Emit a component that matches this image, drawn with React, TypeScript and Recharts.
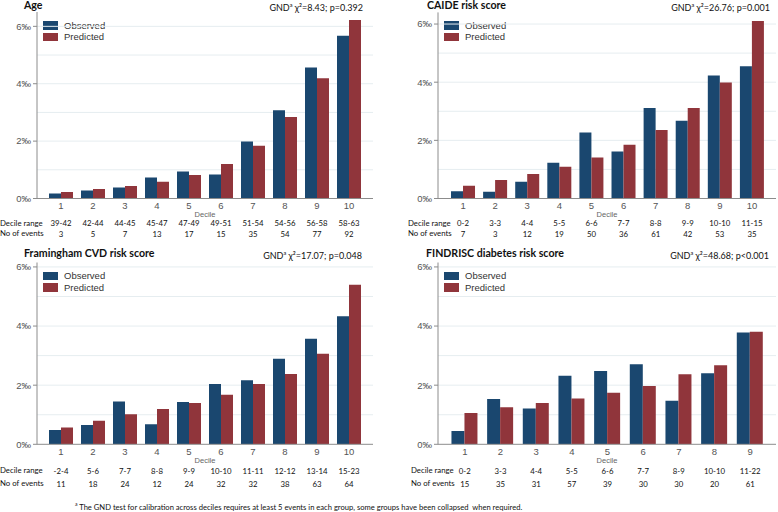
import React from 'react';
import { BarChart, Bar, XAxis, YAxis, CartesianGrid } from 'recharts';

const OBS_COLOR = '#1a476f';
const PRED_COLOR = '#90353b';
const AXIS_COLOR = '#8c8c8c';
const GRID_COLOR = '#e6edf0';
const CALIBRI = 'Lato, "Liberation Sans", sans-serif';

const deciles10 = ['1', '2', '3', '4', '5', '6', '7', '8', '9', '10'];
const deciles9 = deciles10.slice(0, 9);

const ageObserved = [0.17, 0.28, 0.38, 0.73, 0.94, 0.84, 1.99, 3.08, 4.57, 5.67];
const agePredicted = [0.23, 0.33, 0.44, 0.58, 0.82, 1.2, 1.84, 2.84, 4.19, 6.22];
const ageRange = ['39-42', '42-44', '44-45', '45-47', '47-49', '49-51', '51-54', '54-56', '56-58', '58-63'];
const ageEvents = ['3', '5', '7', '13', '17', '15', '35', '54', '77', '92'];

const caideObserved = [0.25, 0.23, 0.58, 1.23, 2.27, 1.62, 3.11, 2.67, 4.23, 4.55];
const caidePredicted = [0.44, 0.64, 0.84, 1.09, 1.41, 1.85, 2.36, 3.11, 3.99, 6.1];
const caideRange = ['0-2', '3-3', '4-4', '5-5', '6-6', '7-7', '8-8', '9-9', '10-10', '11-15'];
const caideEvents = ['7', '3', '12', '19', '50', '36', '61', '42', '53', '35'];

const framObserved = [0.48, 0.65, 1.45, 0.68, 1.43, 2.04, 2.17, 2.89, 3.57, 4.33];
const framPredicted = [0.57, 0.8, 1.02, 1.19, 1.4, 1.68, 2.04, 2.38, 3.06, 5.4];
const framRange = ['-2-4', '5-6', '7-7', '8-8', '9-9', '10-10', '11-11', '12-12', '13-14', '15-23'];
const framEvents = ['11', '18', '24', '12', '24', '32', '32', '38', '63', '64'];

const findObserved = [0.45, 1.53, 1.21, 2.32, 2.48, 2.71, 1.47, 2.4, 3.78];
const findPredicted = [1.06, 1.25, 1.4, 1.55, 1.74, 1.97, 2.37, 2.67, 3.81];
const findRange = ['0-2', '3-3', '4-4', '5-5', '6-6', '7-7', '8-9', '10-10', '11-22'];
const findEvents = ['15', '35', '31', '57', '39', '30', '30', '20', '61'];

const buildRows = (dec: string[], obs: number[], pred: number[], range: string[], events: string[]) =>
  dec.map((d, i) => ({ decile: d, observed: obs[i], predicted: pred[i], range: range[i], events: events[i] }));

interface Pad { left: number; right: number }

interface PanelProps {
  title: string;
  chi: string;
  p: string;
  left: number;
  top: number;
  width: number;
  height: number;
  marginTop: number;
  marginRight: number;
  yMax: number;
  data: ReturnType<typeof buildRows>;
  axisPad: Pad;
  mainH: number;
  rangeH: number;
  labelOffset: number;
  titleX: number;
  titleY: number;
  statRight: number;
  headerX: number;
  rangeY: number;
  eventsY: number;
}

const TABLE_FONT = 7.8;

function Panel(props: PanelProps) {
  const { left, top, width, height, data, yMax } = props;
  const plotLeft = left + 37;
  const tableTick = { fontSize: TABLE_FONT, fill: '#111', fontFamily: CALIBRI };
  return (
    <>
      <div style={{ position: 'absolute', left: props.titleX, top: props.titleY - 7, fontFamily: CALIBRI, fontWeight: 700, fontSize: 10.6, lineHeight: '14px', color: '#111' }}>
        {props.title}
      </div>
      <div style={{ position: 'absolute', right: 778 - props.statRight, top: props.titleY - 6, fontFamily: CALIBRI, fontSize: 9, lineHeight: '12px', color: '#111', whiteSpace: 'nowrap' }}>
        GND<sup style={{ fontSize: 5.5 }}>a</sup> χ²={props.chi}; p{props.p}
      </div>
      <div style={{ position: 'absolute', left: props.headerX, top: props.rangeY - 6, fontFamily: CALIBRI, fontSize: TABLE_FONT, lineHeight: '12px', color: '#111', whiteSpace: 'nowrap' }}>
        Decile range
      </div>
      <div style={{ position: 'absolute', left: props.headerX, top: props.eventsY - 6, fontFamily: CALIBRI, fontSize: TABLE_FONT, lineHeight: '12px', color: '#111', whiteSpace: 'nowrap' }}>
        No of events
      </div>
      <div style={{ position: 'absolute', left: plotLeft + 6, top: top + props.marginTop + 7.5, fontSize: 9.5, color: '#333', lineHeight: '11.5px' }}>
        {[['Observed', OBS_COLOR], ['Predicted', PRED_COLOR]].map(([name, color]) => (
          <div key={name} style={{ display: 'flex', alignItems: 'center', height: 11.5 }}>
            <span style={{ display: 'inline-block', width: 15, height: 8.5, background: color, marginRight: 6 }} />
            {name}
          </div>
        ))}
      </div>
      <div style={{ position: 'absolute', left, top }}>
        <BarChart
          width={width}
          height={height}
          data={data}
          margin={{ top: props.marginTop, right: props.marginRight, bottom: 0, left: 0 }}
          barCategoryGap="12.5%"
          barGap={0}
        >
          <CartesianGrid xAxisId="a_dec" vertical={false} horizontalValues={[1, 2, 3, 4, 5, 6]} stroke={GRID_COLOR} />
          <XAxis
            xAxisId="a_dec"
            dataKey="decile"
            height={props.mainH}
            padding={props.axisPad}
            interval={0}
            tickLine={false}
            tickSize={0}
            tickMargin={4}
            stroke={AXIS_COLOR}
            tick={{ fontSize: 9.5, fill: '#555' }}
            label={{ value: 'Decile', position: 'insideBottom', offset: props.labelOffset, fontSize: 7.5, fill: '#666' }}
          />
          <XAxis
            xAxisId="b_range"
            dataKey="range"
            height={props.rangeH}
            padding={props.axisPad}
            interval={0}
            axisLine={false}
            tickLine={false}
            tickSize={0}
            tickMargin={2}
            tick={tableTick}
          />
          <XAxis
            xAxisId="c_events"
            dataKey="events"
            height={12}
            padding={props.axisPad}
            interval={0}
            axisLine={false}
            tickLine={false}
            tickSize={0}
            tickMargin={2}
            tick={tableTick}
          />
          <YAxis
            width={37}
            domain={[0, yMax]}
            allowDataOverflow
            ticks={[0, 2, 4, 6]}
            tickFormatter={(v) => `${v}‰`}
            tickSize={4}
            tickMargin={2}
            stroke={AXIS_COLOR}
            tick={{ fontSize: 9.5, fill: '#555' }}
          />
          <Bar xAxisId="a_dec" dataKey="observed" name="Observed" fill={OBS_COLOR} isAnimationActive={false} />
          <Bar xAxisId="a_dec" dataKey="predicted" name="Predicted" fill={PRED_COLOR} isAnimationActive={false} />
        </BarChart>
      </div>
    </>
  );
}

export default function App() {
  return (
    <div
      style={{
        position: 'absolute', left: 0, top: 0, width: 778, height: 512, overflow: 'hidden',
        background: '#fff', fontFamily: '"Liberation Sans", Arial, sans-serif',
      }}
    >
      <Panel
        title="Age" chi="8.43" p="=0.392"
        left={0} top={0} width={380} height={241} marginTop={12} marginRight={7} yMax={6.5}
        data={buildRows(deciles10, ageObserved, agePredicted, ageRange, ageEvents)}
        axisPad={{ left: 8, right: 8 }}
        mainH={20} rangeH={10.5} labelOffset={1.4}
        titleX={24} titleY={5} statRight={363} headerX={0} rangeY={222.7} eventsY={233.3}
      />
      <Panel
        title="CAIDE risk score" chi="26.76" p="=0.001"
        left={401} top={0} width={377} height={241} marginTop={12.4} marginRight={2} yMax={6.4}
        data={buildRows(deciles10, caideObserved, caidePredicted, caideRange, caideEvents)}
        axisPad={{ left: 9, right: 8 }}
        mainH={20} rangeH={10.5} labelOffset={1.4}
        titleX={427} titleY={5} statRight={770} headerX={408} rangeY={222.7} eventsY={233.3}
      />
      <Panel
        title="Framingham CVD risk score" chi="17.07" p="=0.048"
        left={0} top={240} width={380} height={251} marginTop={22.5} marginRight={7} yMax={6.15}
        data={buildRows(deciles10, framObserved, framPredicted, framRange, framEvents)}
        axisPad={{ left: 8, right: 8 }}
        mainH={21.7} rangeH={13} labelOffset={2.9}
        titleX={24} titleY={253} statRight={362} headerX={0} rangeY={470} eventsY={483}
      />
      <Panel
        title="FINDRISC diabetes risk score" chi="48.68" p="<0.001"
        left={401} top={240} width={377} height={251} marginTop={22.5} marginRight={2} yMax={6.15}
        data={buildRows(deciles9, findObserved, findPredicted, findRange, findEvents)}
        axisPad={{ left: 9, right: 8 }}
        mainH={21.7} rangeH={13} labelOffset={2.9}
        titleX={426} titleY={253} statRight={769} headerX={411} rangeY={470} eventsY={483}
      />
      <div style={{ position: 'absolute', left: 75, top: 498, fontFamily: CALIBRI, fontSize: 7.6, lineHeight: '12px', color: '#111', whiteSpace: 'nowrap' }}>
        <sup style={{ fontSize: 5 }}>a</sup> The GND test for calibration across deciles requires at least 5 events in each group, some groups have been collapsed&nbsp; when required.
      </div>
    </div>
  );
}
